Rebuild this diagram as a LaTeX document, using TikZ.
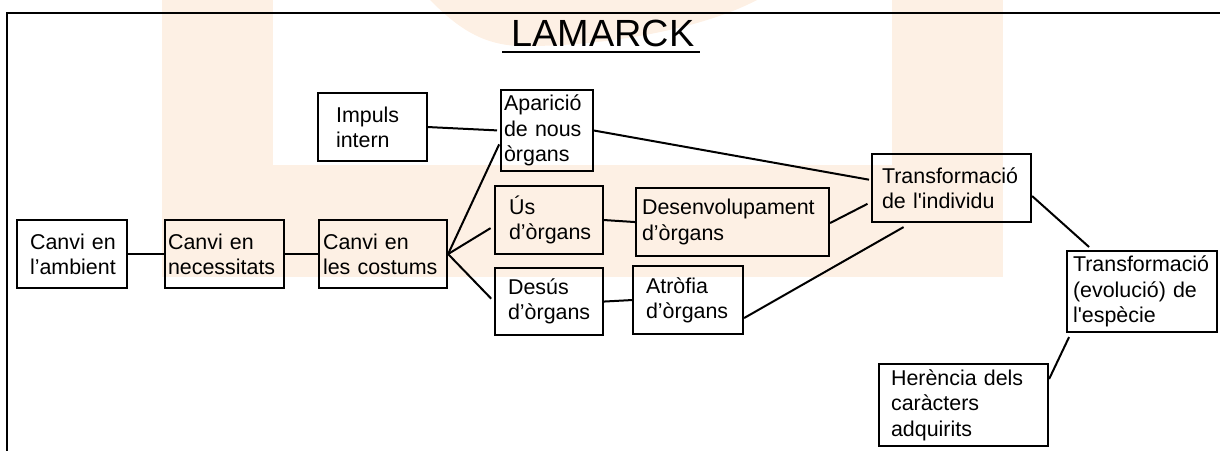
\documentclass[tikz,border=0pt]{standalone}
\usepackage{fontspec}
\setmainfont{Liberation Sans}
\definecolor{wmcol}{RGB}{253,240,228}
\begin{document}
\begin{tikzpicture}[x=1bp,y=-1bp,
  box/.style={draw=black, line width=2.1bp, anchor=north west, align=left, inner ysep=0pt,
    font=\fontsize{21.5}{25.5}\selectfont, text=black},
  conn/.style={line width=2bp, draw=black}]
\useasboundingbox (0,0) rectangle (1220,451);
% watermark
\fill[wmcol] (162,0) rectangle (273,277);
\fill[wmcol] (162,165) rectangle (1003,277);
\fill[wmcol] (892,0) rectangle (1003,277);
\fill[wmcol] (430,0) .. controls (455,25) and (480,45) .. (520,46) .. controls (600,47) and (700,30) .. (757,0) -- cycle;
% frame
\draw[line width=2bp] (1221,13) -- (7,13) -- (7,452);
% title
\node[font=\fontsize{38}{40}\selectfont, anchor=base, inner sep=0pt, text=black] (title) at (603,47) {LAMARCK};
\draw[line width=2bp] ([xshift=-9bp,yshift=-5bp]title.base west) -- ([xshift=5bp,yshift=-5bp]title.base east);
% boxes
\node[box, text width=84bp, inner xsep=13bp, minimum height=68bp] (amb) at (16,219) {Canvi~en\\l’ambient};
\node[box, text width=113bp, inner xsep=3bp, minimum height=68bp] (nec) at (164,219) {Canvi~en\\necessitats};
\node[box, text width=120bp, inner xsep=4bp, minimum height=68bp] (cos) at (318,219) {Canvi~en\\les~costums};
\node[box, text width=73bp, inner xsep=18bp, minimum height=68bp] (imp) at (317,92) {Impuls\\intern};
\node[box, text width=86bp, inner xsep=3bp, minimum height=81bp] (apa) at (500,89) {Aparició\\de~nous\\òrgans};
\node[box, text width=80bp, inner xsep=14bp, minimum height=68bp] (us) at (494,185) {Ús\\d’òrgans};
\node[box, text width=181bp, inner xsep=6bp, minimum height=68bp] (des) at (635,187) {Desenvolupament\\d’òrgans};
\node[box, text width=82bp, inner xsep=13bp, minimum height=67bp] (dess) at (494,267) {Desús\\d’òrgans};
\node[box, text width=84bp, inner xsep=13bp, minimum height=68bp] (atr) at (632,265) {Atròfia\\d’òrgans};
\node[box, text width=139bp, inner xsep=10bp, minimum height=68bp] (ind) at (871,153) {Transformació\\de~l\textquotesingle individu};
\node[box, text width=138bp, inner xsep=6bp, minimum height=81bp] (esp) at (1066,250) {Transformació\\(evolució)~de\\l\textquotesingle espècie};
\node[box, text width=145bp, inner xsep=12bp, minimum height=82bp] (her) at (878,363) {Herència~dels\\caràcters\\adquirits};
% connectors
\draw[conn] (amb.east) -- (nec.west);
\draw[conn] (nec.east) -- (cos.west);
\draw[conn, shorten >=3bp] (imp.east) -- (apa.west);
\draw[conn, shorten >=2bp] (cos.east) -- ([yshift=-12bp]apa.west);
\draw[conn, shorten >=4bp] (cos.east) -- ([yshift=-6bp]us.west);
\draw[conn, shorten >=4bp] (cos.east) -- (dess.west);
\draw[conn] (us.east) -- (des.west);
\draw[conn] (dess.east) -- (atr.west);
\draw[conn, shorten >=2bp] (apa.east) -- ([yshift=8bp]ind.west);
\draw[conn, shorten >=4bp] ([yshift=-1bp]des.east) -- ([yshift=-14bp]ind.west);
\draw[conn] ([yshift=-18bp]atr.east) -- ([xshift=-48bp,yshift=-4bp]ind.south);
\draw[conn] ([yshift=-8bp]ind.east) -- ([xshift=-53bp,yshift=3bp]esp.north);
\draw[conn] ([yshift=26bp]her.east) -- ([xshift=-73bp,yshift=-4bp]esp.south);
\end{tikzpicture}
\end{document}
